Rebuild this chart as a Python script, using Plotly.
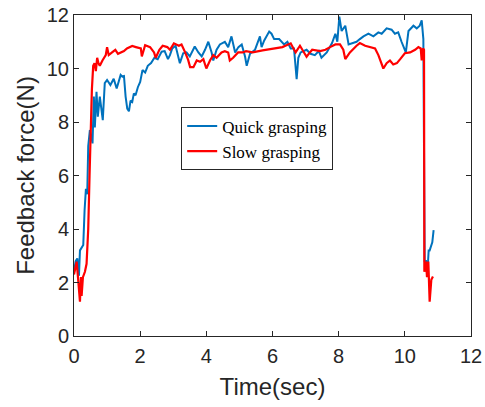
import plotly.graph_objects as go

# Quick grasping (blue)
quick_t = [0, 0.05, 0.1, 0.15, 0.18, 0.23, 0.28, 0.32, 0.36, 0.4,
           0.43, 0.48, 0.52, 0.56, 0.6, 0.63, 0.68, 0.72, 0.78, 0.83,
           0.87, 0.93, 1.0, 1.1, 1.2, 1.29, 1.36, 1.41, 1.46, 1.51,
           1.56, 1.61, 1.66, 1.71, 1.76, 1.81, 1.86, 1.93, 2.0, 2.07,
           2.15, 2.23, 2.33, 2.43, 2.53, 2.65, 2.74, 2.84, 2.9, 2.97,
           3.07, 3.2, 3.3, 3.4, 3.5, 3.65, 3.76, 3.86, 3.96, 4.06,
           4.16, 4.21, 4.31, 4.41, 4.56, 4.66, 4.76, 4.87, 4.97, 5.07,
           5.17, 5.22, 5.32, 5.47, 5.62, 5.67, 5.75, 5.9, 5.97, 6.05,
           6.2, 6.35, 6.45, 6.55, 6.65, 6.73, 6.78, 6.85, 7.03, 7.15,
           7.28, 7.4, 7.48, 7.64, 7.8, 7.9, 7.96, 8.02, 8.09, 8.2,
           8.3, 8.4, 8.54, 8.64, 8.75, 8.9, 9.05, 9.2, 9.3, 9.45,
           9.6, 9.7, 9.8, 9.9, 9.96, 10.03, 10.11, 10.2, 10.26, 10.36,
           10.45, 10.51, 10.56, 10.6, 10.64, 10.68, 10.72, 10.75, 10.8, 10.83,
           10.87]
quick_f = [2.4, 2.8, 2.9, 2.25, 3.2, 3.3, 3.4, 4.7, 5.5, 5.3,
           7.1, 7.7, 7.5, 7.2, 8.95, 7.8, 9.13, 8.2, 8.95, 8.45,
           8.07, 9.45, 9.57, 9.38, 9.62, 9.25, 9.5, 9.76, 9.7, 9.72,
           8.95, 8.5, 8.4, 8.8, 8.75, 9.07, 9.0, 9.3, 9.5, 9.94,
           9.85, 10.1, 10.2, 10.4, 10.35, 10.63, 10.65, 10.35, 10.5, 10.75,
           10.85, 10.2, 10.57, 10.6, 10.45, 10.82, 10.6, 10.45, 10.7, 11.0,
           10.6, 10.3, 10.7, 10.9, 11.0, 10.8, 11.2, 10.6, 10.8, 10.9,
           10.45, 10.1, 10.55, 10.7, 11.2, 10.8, 11.05, 11.38, 11.3, 11.1,
           11.1, 10.9, 11.0, 10.75, 10.75, 9.6, 10.4, 10.6, 10.7, 10.55,
           10.5, 10.65, 10.4, 10.6, 10.95, 11.3, 11.0, 11.94, 11.4, 11.6,
           10.9, 10.95, 11.0, 11.1, 11.2, 11.3, 11.2, 11.35, 11.3, 11.5,
           11.45, 11.3, 11.35, 11.0, 10.8, 10.6, 11.4, 11.5, 11.6, 11.5,
           11.6, 11.8, 11.1, 2.8, 2.8, 2.3, 3.2, 3.2, 3.45, 3.5,
           3.96]

# Slow grasping (red)
slow_t = [0, 0.04, 0.08, 0.12, 0.16, 0.18, 0.21, 0.23, 0.27, 0.33,
          0.38, 0.43, 0.47, 0.5, 0.54, 0.58, 0.62, 0.66, 0.7, 0.74,
          0.78, 0.86, 0.96, 1.0, 1.05, 1.15, 1.25, 1.33, 1.41, 1.51,
          1.6, 1.76, 1.87, 2.02, 2.05, 2.15, 2.3, 2.42, 2.47, 2.58,
          2.68, 2.82, 2.9, 3.02, 3.17, 3.25, 3.35, 3.45, 3.51, 3.61,
          3.71, 3.81, 3.91, 4.0, 4.11, 4.21, 4.31, 4.46, 4.56, 4.66,
          4.71, 4.81, 4.96, 5.1, 5.2, 5.4, 5.7, 6.0, 6.3, 6.55,
          6.7, 6.83, 7.03, 7.13, 7.2, 7.44, 7.6, 7.74, 7.9, 8.04,
          8.14, 8.2, 8.34, 8.54, 8.64, 8.8, 8.95, 9.1, 9.2, 9.3,
          9.35, 9.45, 9.55, 9.65, 9.76, 9.86, 10.0, 10.16, 10.31, 10.41,
          10.48, 10.51, 10.55, 10.58, 10.59, 10.64, 10.67, 10.71, 10.73, 10.75,
          10.8, 10.85]
slow_f = [2.3, 2.5, 2.78, 2.2, 1.6, 1.28, 2.2, 1.5, 2.2, 2.4,
          2.7, 4.0, 6.0, 7.8, 9.2, 10.1, 10.2, 9.9, 10.4, 10.2,
          10.1, 10.3, 10.5, 10.8, 10.5, 10.6, 10.7, 10.55, 10.6, 10.65,
          10.75, 10.84, 10.8, 10.75, 10.45, 10.87, 10.8, 10.6, 10.4, 10.7,
          10.85, 10.8, 10.7, 10.94, 10.85, 10.9, 10.63, 10.32, 10.05, 10.05,
          10.3, 10.25, 10.35, 10.0, 10.3, 10.5, 10.4, 10.6, 10.65, 10.6,
          10.3, 10.4, 10.6, 10.6, 10.65, 10.6, 10.68, 10.75, 10.8, 10.94,
          10.6, 10.85, 10.44, 10.6, 10.7, 10.65, 10.7, 10.8, 10.9, 10.9,
          10.7, 10.35, 10.6, 10.85, 10.95, 10.85, 10.8, 10.75, 10.5, 10.13,
          10.0, 10.2, 10.3, 10.15, 10.2, 10.35, 10.57, 10.6, 10.7, 10.8,
          10.75, 10.3, 10.75, 10.7, 2.4, 2.78, 2.2, 2.78, 1.84, 1.28,
          2.1, 2.22]

x_ticks = [0, 2, 4, 6, 8, 10, 12]
y_ticks = [0, 2, 4, 6, 8, 10, 12]

axis_color = "#262626"

fig = go.Figure()
fig.add_trace(go.Scatter(x=quick_t, y=quick_f, mode="lines", name="Quick grasping",
                         line=dict(color="#0072BD", width=2)))
fig.add_trace(go.Scatter(x=slow_t, y=slow_f, mode="lines", name="Slow grasping",
                         line=dict(color="#FF0000", width=2.2)))

common_axis = dict(showline=True, linecolor=axis_color, linewidth=1, mirror="ticks",
                   ticks="inside", ticklen=5, tickcolor=axis_color, tickwidth=1,
                   showgrid=False, zeroline=False, automargin=False,
                   tickfont=dict(family="Liberation Sans", size=20, color=axis_color))

fig.update_xaxes(range=[0, 12], tickvals=x_ticks, ticklabelstandoff=2,
                 title=dict(text="Time(sec)", standoff=12,
                            font=dict(family="Liberation Sans", size=24, color=axis_color)),
                 **common_axis)
fig.update_yaxes(range=[0, 12], tickvals=y_ticks,
                 title=dict(text="Feedback force(N)", standoff=5,
                            font=dict(family="Liberation Sans", size=24, color=axis_color)),
                 **common_axis)

fig.update_layout(
    width=485, height=407,
    margin=dict(l=74, r=14, t=15, b=71, autoexpand=False),
    plot_bgcolor="white", paper_bgcolor="white",
    legend=dict(x=0.27, y=0.712, xanchor="left", yanchor="top",
                bordercolor=axis_color, borderwidth=1, bgcolor="white",
                font=dict(family="Liberation Serif", size=17, color="black"),
                tracegroupgap=0),
)

fig.write_html("out.html")
